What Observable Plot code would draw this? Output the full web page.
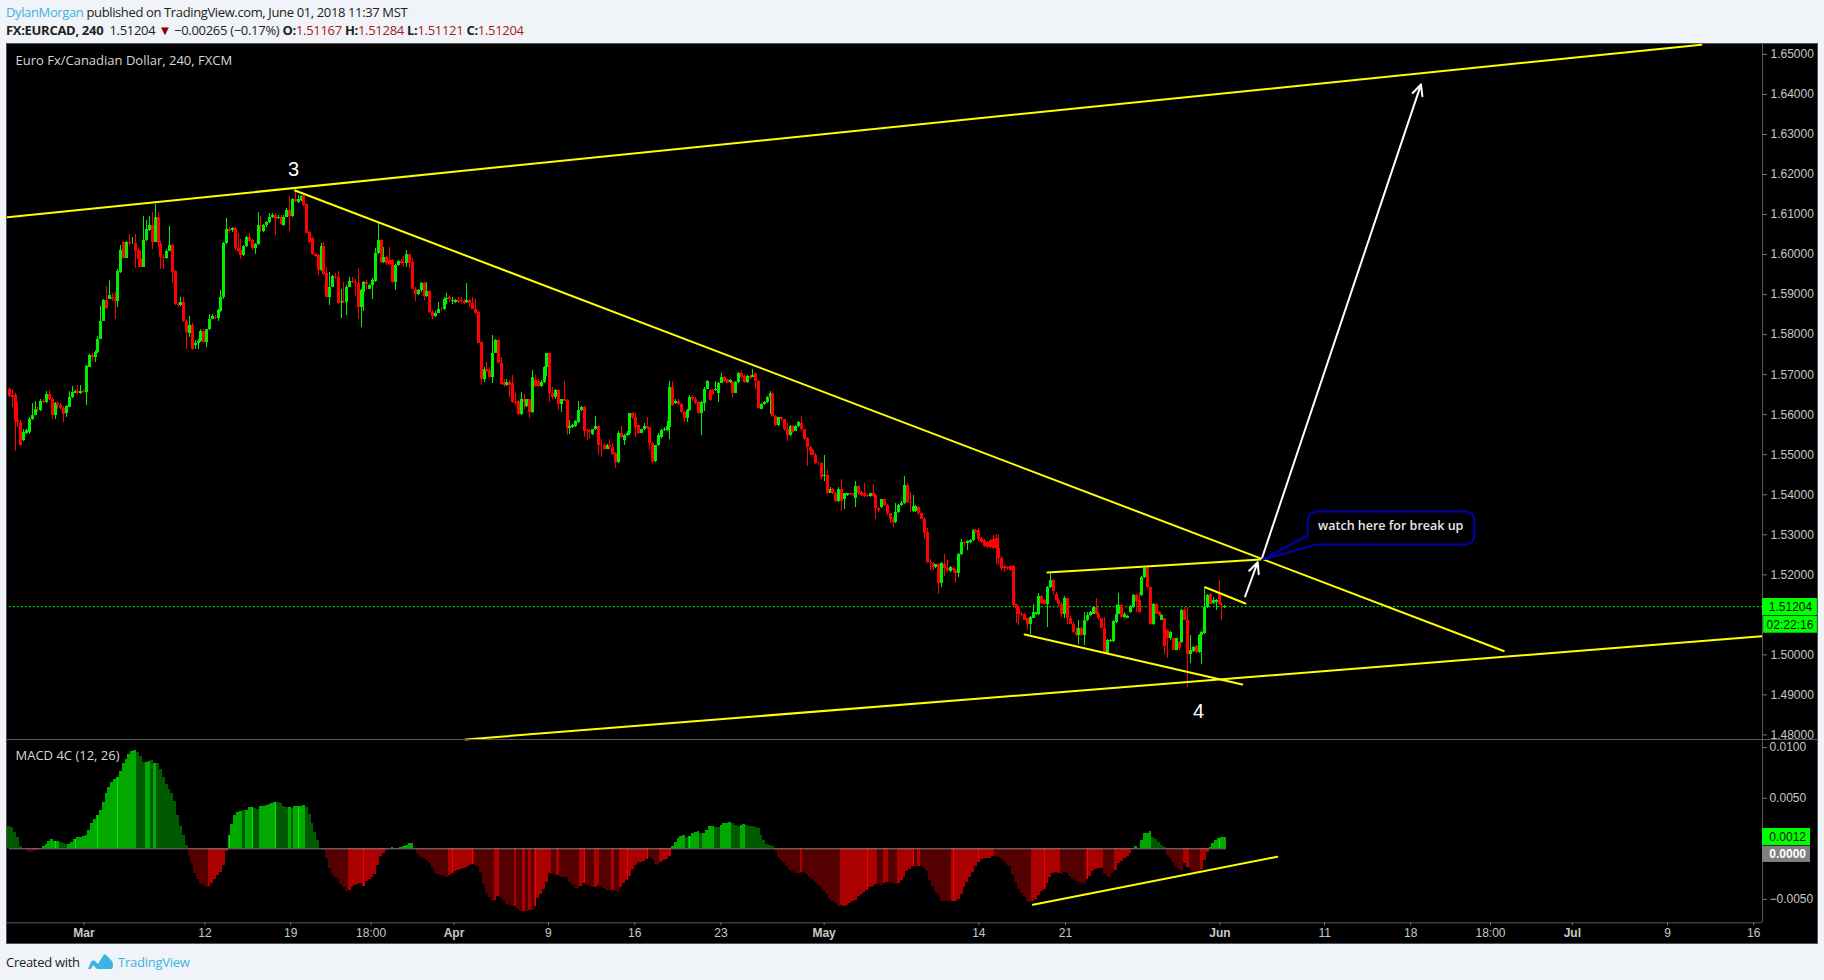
<!DOCTYPE html>
<html><head><meta charset="utf-8">
<script src="https://cdn.jsdelivr.net/npm/d3@7"></script>
<script src="https://cdn.jsdelivr.net/npm/@observablehq/plot@0.6"></script>
<style>
html,body{margin:0;padding:0;background:#f0f3f7;width:1824px;height:980px;overflow:hidden}
#h1,#h2,#foot{position:absolute;font-family:"Open Sans",sans-serif;font-size:13px;white-space:nowrap;color:#222;letter-spacing:-.3px}
#h1{left:6px;top:3px;letter-spacing:-.37px}
#h2{left:6px;top:21px}
#h2 b{font-weight:700}
.hot{color:#a61c1c}
.blue{color:#3bb3e4}
#panel{position:absolute;left:6px;top:43px;width:1812px;height:901px;box-sizing:border-box;border:1px solid #50535a;background:#000}
#panel svg{position:absolute;left:0;overflow:visible;background:transparent}
#foot{left:6px;top:953px}
#logo{position:absolute;left:88px;top:954px}
#tv{position:absolute;left:118px;top:953px;font-family:"Open Sans",sans-serif;font-size:13px;letter-spacing:-.25px;color:#3bb3e4}
</style></head><body>
<div id="h1"><span class="blue">DylanMorgan</span> published on TradingView.com, June 01, 2018 11:37 MST</div>
<div id="h2"><b>FX:EURCAD, 240</b>&nbsp; 1.51204 <span style="color:#8b0000">▼</span> −0.00265 (−0.17%) <b>O:</b><span class="hot">1.51167</span> <b>H:</b><span class="hot">1.51284</span> <b>L:</b><span class="hot">1.51121</span> <b>C:</b><span class="hot">1.51204</span></div>
<div id="panel"></div>
<div id="foot">Created with</div>
<svg id="logo" width="26" height="16" viewBox="0 0 26 16"><path d="M0 15 L3 8 C4 6 7 6 8 8 L10 10 L15 2 C16 0 18 0 19 2 L23 6 C25 8 26 12 24 15 Z M5 11 L3 15 L9 15 Z" fill="#3bb3e4" fill-rule="evenodd"/></svg>
<div id="tv">TradingView</div>
<script>
// prices in units of 0.0001
const opens=[15664,15648,15648,15585,15581,15535,15554,15556,15589,15599,15614,15610,15632,15631,15650,15639,15597,15627,15622,15616,15602,15618,15642,15653,15657,15653,15658,15656,15718,15747,15743,15755,15788,15833,15885,15889,15892,15888,15883,15956,16031,15991,16030,16027,16028,16010,15987,15968,16035,16060,16072,16031,16093,16025,15992,15990,16008,16022,15958,15875,15872,15881,15833,15803,15822,15772,15777,15783,15808,15781,15812,15839,15843,15841,15858,15892,16027,16062,16060,16064,16014,16010,15997,16020,16043,16035,16014,16025,16072,16058,16072,16081,16093,16097,16089,16093,16072,16093,16110,16095,16137,16131,16135,16145,16125,16055,16039,16000,15997,15960,16021,15952,15893,15918,15946,15943,15881,15881,15881,15918,15932,15929,15927,15868,15906,15929,15914,15922,15932,16002,16035,15981,15992,15985,15985,15931,15972,15982,15981,15978,16000,15981,15914,15900,15910,15928,15895,15907,15856,15845,15854,15864,15862,15887,15892,15883,15881,15885,15885,15883,15881,15885,15878,15864,15855,15780,15689,15712,15710,15693,15754,15785,
15729,15680,15672,15681,15677,15631,15632,15600,15637,15621,15637,15606,15685,15683,15670,15681,15717,15752,15652,15642,15660,15625,15637,15635,15566,15568,15570,15581,15610,15618,15560,15558,15550,15562,15570,15523,15524,15514,15522,15517,15503,15480,15554,15535,15547,15552,15603,15592,15572,15553,15562,15570,15567,15528,15483,15522,15543,15560,15560,15568,15668,15627,15633,15625,15606,15591,15610,15643,15639,15631,15603,15628,15664,15660,15660,15660,15652,15678,15692,15687,15681,15681,15653,15681,15702,15695,15681,15695,15693,15702,15682,15614,15625,15631,15642,15652,15595,15572,15592,15587,15562,15547,15570,15558,15570,15579,15562,15541,15518,15510,15499,15478,15478,15445,15447,15403,15412,15403,15382,15414,15389,15397,15402,15402,15391,15420,15406,15402,15397,15396,15402,15397,15366,15368,15387,15372,15352,15339,15331,15356,15372,15377,15422,15381,15358,15358,15368,15352,15339,15305,15231,15229,15218,15227,15178,15227,15217,15208,15217,15212,15203,15252,15281,15277,15281,15285,15310,
15310,15290,15285,15281,15285,15288,15290,15265,15242,15220,15219,15220,15220,15125,15119,15102,15101,15090,15077,15092,15101,15101,15145,15135,15125,15169,15185,15152,15137,15125,15101,15140,15092,15077,15056,15048,15067,15048,15086,15098,15102,15119,15102,15090,15067,15004,15033,15033,15081,15102,15123,15094,15092,15106,15119,15148,15135,15148,15194,15215,15169,15076,15126,15106,15087,15090,15060,15040,15040,15012,15031,15031,15110,15087,15002,15009,15020,15006,15048,15054,15119,15150,15129,15131,15152,15127,15119];
const closes=[15646,15644,15583,15581,15522,15556,15560,15587,15599,15614,15612,15632,15631,15650,15639,15597,15627,15622,15616,15600,15620,15642,15655,15657,15653,15658,15656,15720,15747,15743,15755,15789,15833,15885,15865,15897,15887,15883,15958,16010,15991,16030,16027,16028,16008,15987,15968,16035,16062,16072,16031,16093,16027,15992,15990,16008,16022,15956,15875,15872,15881,15833,15806,15822,15762,15777,15783,15808,15781,15812,15839,15845,15841,15860,15892,16027,16062,16058,16064,16014,16008,15997,16020,16042,16033,16014,16025,16072,16070,16072,16081,16092,16097,16087,16093,16075,16093,16110,16095,16137,16133,16137,16145,16122,16053,16030,16000,15995,15960,16021,15950,15893,15918,15946,15942,15877,15882,15879,15918,15932,15929,15927,15868,15910,15929,15925,15922,15935,16002,16035,15981,15992,15977,15975,15931,15972,15982,15978,15977,16000,15978,15914,15900,15910,15928,15895,15908,15856,15845,15854,15864,15862,15887,15891,15887,15885,15885,15881,15883,15878,15885,15878,15864,15853,15778,15689,15712,15708,15693,15754,15785,15728,
15675,15672,15681,15672,15631,15627,15600,15637,15631,15637,15606,15693,15670,15670,15681,15717,15752,15652,15642,15660,15625,15637,15634,15566,15570,15572,15582,15610,15617,15558,15558,15556,15562,15570,15522,15522,15512,15522,15517,15500,15480,15554,15543,15547,15554,15602,15592,15568,15553,15562,15570,15566,15528,15483,15522,15547,15560,15563,15570,15668,15622,15633,15625,15606,15591,15610,15643,15637,15627,15603,15631,15664,15682,15635,15650,15664,15678,15692,15682,15679,15685,15653,15681,15703,15692,15681,15695,15691,15699,15682,15616,15625,15631,15643,15653,15595,15572,15592,15587,15562,15547,15570,15556,15570,15581,15562,15537,15518,15508,15499,15478,15477,15442,15447,15403,15414,15403,15382,15414,15382,15402,15402,15400,15397,15420,15402,15397,15396,15395,15402,15396,15366,15360,15387,15372,15352,15339,15331,15356,15372,15379,15422,15381,15379,15370,15370,15352,15339,15303,15231,15228,15218,15225,15178,15228,15217,15210,15218,15210,15203,15252,15280,15277,15282,15285,15310,15306,
15287,15281,15270,15267,15269,15265,15265,15240,15215,15217,15215,15210,15123,15117,15101,15098,15087,15077,15094,15105,15105,15145,15129,15125,15169,15185,15159,15137,15125,15101,15142,15092,15077,15056,15048,15067,15048,15086,15098,15106,15119,15101,15090,15067,15006,15035,15035,15083,15102,15123,15094,15102,15095,15120,15148,15134,15106,15194,15215,15169,15076,15126,15102,15098,15098,15020,15040,15056,15012,15040,15015,15110,15087,15002,15010,15019,15006,15048,15056,15119,15148,15127,15135,15135,15127,15123,15120];
const highs=[15667,15664,15652,15631,15585,15564,15562,15592,15627,15632,15618,15637,15637,15657,15660,15643,15631,15632,15628,15620,15622,15658,15670,15660,15672,15673,15662,15722,15750,15752,15760,15795,15870,15889,15920,15935,15902,15906,15962,16022,16033,16032,16050,16043,16050,16014,16010,16095,16085,16095,16105,16125,16105,16033,16000,16012,16070,16025,15960,15881,15893,15892,15837,15845,15827,15785,15787,15814,15812,15814,15850,15850,15848,15862,15910,16031,16090,16068,16067,16067,16052,16037,16022,16045,16053,16037,16028,16104,16095,16075,16083,16102,16102,16102,16097,16097,16097,16114,16145,16139,16158,16147,16148,16147,16128,16058,16042,16003,16000,16027,16030,15967,15956,15948,15952,15957,15912,15929,15922,15943,15943,15937,15964,15912,15932,15935,15925,15939,16014,16077,16037,16017,15995,16017,15987,15975,15985,15987,15995,16010,16000,15989,15917,15912,15931,15931,15931,15910,15860,15858,15881,15868,15892,15902,15897,15893,15889,15892,15893,15887,15927,15889,15892,15889,15858,15782,15718,15731,15718,15798,15787,15787,
15742,15687,15689,15685,15697,15652,15635,15656,15650,15639,15639,15710,15699,15687,15685,15720,15753,15753,15668,15662,15662,15639,15682,15637,15585,15575,15585,15632,15620,15620,15564,15562,15564,15595,15572,15539,15527,15525,15537,15527,15506,15557,15570,15550,15558,15603,15606,15602,15574,15564,15577,15592,15568,15531,15524,15552,15562,15567,15582,15682,15682,15637,15637,15628,15608,15612,15649,15647,15642,15633,15633,15667,15685,15662,15662,15683,15681,15704,15696,15689,15687,15683,15683,15706,15710,15697,15697,15697,15714,15704,15685,15628,15633,15646,15657,15654,15597,15594,15594,15589,15578,15572,15572,15572,15583,15595,15564,15543,15521,15512,15502,15481,15481,15497,15460,15417,15415,15406,15417,15437,15404,15404,15404,15404,15432,15422,15408,15427,15400,15404,15425,15400,15368,15389,15389,15375,15354,15342,15379,15375,15382,15445,15427,15406,15397,15372,15371,15354,15342,15316,15239,15232,15227,15229,15231,15252,15237,15221,15219,15214,15254,15287,15283,15285,15287,15314,15314,
15315,15292,15288,15284,15288,15298,15300,15298,15245,15223,15221,15223,15223,15127,15121,15105,15103,15092,15096,15125,15107,15154,15148,15138,15171,15204,15188,15155,15140,15131,15145,15142,15095,15080,15069,15086,15070,15106,15106,15109,15121,15140,15105,15092,15094,15038,15038,15086,15127,15154,15125,15105,15098,15123,15150,15150,15156,15196,15219,15223,15171,15128,15128,15109,15100,15092,15063,15059,15042,15042,15034,15113,15119,15119,15048,15021,15023,15050,15059,15169,15150,15153,15144,15138,15185,15130,15124];
const lows=[15643,15618,15508,15568,15521,15533,15550,15550,15585,15597,15606,15608,15627,15628,15635,15589,15589,15614,15612,15581,15592,15617,15640,15652,15650,15650,15652,15622,15717,15733,15731,15752,15787,15832,15863,15887,15883,15838,15867,15953,15988,15989,16022,16025,15966,15967,15967,15967,16033,16058,16012,16029,16018,15962,15962,15988,16007,15928,15872,15868,15870,15831,15762,15792,15760,15764,15764,15781,15778,15768,15810,15837,15837,15833,15856,15889,16025,16052,16056,16010,16006,15987,15995,16018,16031,16010,16000,16022,16056,16056,16068,16078,16089,16048,16087,16072,16070,16092,16058,16093,16131,16128,16133,16120,16052,16027,15997,15992,15948,15958,15948,15892,15872,15917,15938,15875,15841,15877,15847,15917,15927,15896,15837,15818,15858,15910,15912,15889,15931,16000,15978,15978,15972,15972,15928,15910,15970,15975,15967,15967,15964,15912,15883,15897,15906,15885,15893,15853,15839,15843,15852,15858,15860,15875,15881,15875,15877,15877,15875,15875,15877,15867,15862,15850,15777,15672,15681,15706,15692,15678,15752,15727,
15672,15668,15670,15643,15628,15622,15598,15598,15614,15618,15591,15603,15667,15667,15668,15678,15695,15631,15639,15639,15610,15606,15632,15547,15550,15566,15567,15578,15607,15542,15535,15537,15547,15560,15500,15493,15510,15512,15513,15497,15466,15478,15541,15522,15545,15549,15587,15543,15550,15552,15560,15563,15510,15478,15481,15520,15541,15557,15558,15539,15620,15625,15622,15603,15581,15581,15607,15633,15625,15601,15547,15608,15662,15632,15647,15658,15631,15677,15680,15677,15678,15642,15652,15678,15689,15678,15679,15688,15692,15662,15613,15612,15622,15629,15600,15592,15570,15571,15584,15559,15532,15546,15553,15557,15568,15559,15535,15470,15497,15497,15476,15474,15439,15433,15401,15402,15401,15380,15380,15358,15362,15395,15397,15395,15368,15399,15395,15393,15392,15393,15393,15339,15356,15366,15370,15349,15328,15318,15328,15353,15370,15375,15378,15356,15356,15356,15349,15337,15287,15228,15210,15210,15216,15150,15168,15195,15207,15206,15207,15178,15193,15249,15267,15260,15278,15282,15303,
15284,15279,15267,15265,15266,15262,15227,15223,15212,15206,15210,15208,15120,15079,15073,15095,15085,15060,15052,15090,15098,15098,15126,15123,15069,15166,15148,15135,15119,15094,15090,15077,15075,15054,15045,15027,15045,15023,15083,15095,15100,15098,15087,15065,15004,15002,15030,15030,15079,15100,15091,15091,15090,15104,15116,15106,15104,15145,15191,15166,15073,15073,15100,15095,15085,15002,14990,15037,15010,15010,15012,15029,15085,14919,14979,15006,15004,15004,14975,15051,15116,15125,15126,15110,15125,15085,15116];
// MACD histogram in units of 0.00001
const macd=[220,211,161,112,23,7,-7,-39,-39,-20,-7,3,23,43,76,92,72,72,66,49,39,43,63,95,109,115,125,132,181,247,290,329,378,461,546,605,655,688,704,763,839,882,931,961,971,951,911,852,852,865,872,839,842,783,704,635,582,549,467,332,220,128,30,-72,-148,-247,-306,-352,-365,-378,-368,-345,-306,-266,-230,-168,-26,132,240,332,362,368,375,382,408,405,395,392,418,421,428,441,447,457,457,444,421,411,405,401,418,418,421,428,408,339,247,161,82,-7,-16,-99,-197,-257,-286,-296,-352,-385,-418,-411,-382,-365,-352,-342,-368,-326,-306,-280,-250,-164,-79,-49,-16,-3,13,-7,-3,10,20,33,49,53,-3,-56,-82,-99,-115,-141,-197,-247,-257,-266,-273,-280,-260,-240,-227,-214,-204,-197,-181,-164,-155,-164,-174,-230,-352,-438,-484,-523,-510,-470,-477,-510,-546,-556,-566,-569,-595,-622,
-615,-615,-609,-609,-569,-490,-451,-401,-332,-247,-250,-263,-266,-283,-283,-286,-336,-365,-388,-388,-372,-345,-365,-372,-382,-382,-365,-375,-395,-411,-411,-411,-421,-431,-382,-342,-313,-273,-204,-164,-135,-135,-125,-105,-89,-105,-151,-161,-138,-118,-102,-72,23,63,102,122,132,112,122,151,161,171,151,151,181,220,220,214,211,234,250,253,260,250,230,224,230,240,234,220,220,214,201,132,82,43,33,23,
-26,-92,-115,-135,-174,-211,-224,-243,-243,-234,-234,-253,-283,-303,-332,-362,-382,-421,-451,-500,-520,-540,-566,-559,-566,-559,-540,-520,-510,-470,-451,-431,-411,-385,-372,-352,-352,-362,-342,-332,-332,-342,-352,-345,-313,-283,-224,-204,-174,-174,-174,-174,-194,-224,-313,-372,-431,-464,-520,-520,-520,-520,-520,-520,-500,-451,-382,-332,-283,-234,-174,-135,-105,-95,-95,-92,-76,-76,-86,-105,-135,-164,-174,-263,-332,-401,-441,-480,-520,
-526,-520,-503,-464,-424,-401,-342,-286,-243,-234,-243,-253,-234,-243,-273,-303,-322,-332,-342,-352,-303,-273,-224,-204,-194,-194,-253,-273,-283,-243,-214,-145,-125,-95,-76,-46,-10,23,3,82,151,151,171,112,89,66,33,16,-66,-99,-135,-184,-204,-214,-145,-184,-204,-224,-234,-234,-204,-115,-36,10,53,82,102,112,112];
// tone of each histogram bar, as runs: G rising above zero, D falling above zero, R rising below zero, M falling below zero
const macdToneNames=["D","M","R","G","D","G","D","G","D","G","D","M","R","G","D","G","D","G","D","G","D","G","D","M","R","M","G","M","G","M","R","M","R","M","R","M","R","M","R","M","R","M","R","M","R","M","R","M","R","M","R","M","R","G","D","G","D","G","D","G","D","G","D","M","R","M","R","M","R","M","R","M","R","M","R","M","R","M","R","M","R","G","D","M","R","M","R","G"];
const macdToneRuns=[6,3,2,7,3,24,3,2,1,1,11,7,7,5,1,3,2,6,4,1,1,4,5,10,13,2,1,2,5,12,9,7,2,5,1,2,1,1,1,1,6,2,1,7,2,3,2,4,1,2,10,4,4,5,1,4,1,4,2,4,3,2,10,9,1,13,13,2,2,3,6,1,1,11,15,13,10,9,6,4,7,6,5,6,2,4,3,6];
const macdSparks=[16,23,31,38,77,85,93,101,124,155,162,184,201,216,223,231,238,300,316,330,339,362,377,423];
const toneColors={G:"#00a800",D:"#005a00",R:"#aa0000",M:"#550000"};
// time axis
const minorTickAt=[68.4,98.4,126.5,188.5,218.7,248.8,339,369.3,459.9,490,517.9,579.8,609.9];
const minorTickText=["12","19","18:00","9","16","23","14","21","11","18","18:00","9","16"];
const monthTickAt=[26.1,155.5,284.9,423.3,546.5];
const monthTickText=["Mar","Apr","May","Jun","Jul"];
const priceTicks=[1.48,1.49,1.5,1.52,1.53,1.54,1.55,1.56,1.57,1.58,1.59,1.6,1.61,1.62,1.63,1.64,1.65];
const macdTicks=[0.01,0.005,-0.005];
// drawn annotations: [bar position, price]
const channelTop=[[-0.6,1.60933],[591.6,1.65243]];
const channelBottom=[[159.5,1.47886],[612.7,1.50466]];
const downTrend=[[99.9,1.6160],[522.5,1.50096]];
const wedgeTop=[[363,1.52057],[437.5,1.52382]];
const wedgeBottom=[[355,1.50509],[431.1,1.4926]];
const flagTop=[[418.1,1.5169],[432.2,1.51283]];
const arrows=[{x1:432.1,y1:1.51458,x2:436.5,y2:1.52315},{x1:438.1,y1:1.5244,x2:493.6,y2:1.64253}];
const macdTrend=[[357.9,-0.00553],[443.3,-0.00079]];
const callout=[[454,1.52982],[454,1.5338],[454.8,1.5352],[456.8,1.53581],[509.5,1.53581],[511.5,1.5352],[512.3,1.5338],[512.3,1.5296],[511.5,1.5282],[509.5,1.52757],[457.1,1.52757],[438.1,1.52382]];

const UP="#00f000",DOWN="#ff0000",YEL="#ffff00",AXIS="#55585e",LBL="#c8c8c8";
const tones=macdToneRuns.flatMap((n,k)=>d3.range(n).map(()=>macdToneNames[k]));
const candles=opens.map((o,i)=>({i,o:o/1e4,c:closes[i]/1e4,h:highs[i]/1e4,l:lows[i]/1e4}));
const bars=macd.map((v,i)=>({i,v:v/1e5,tone:tones[i]||"G"}));
const xDomain=[0,613],W=1810,ML=1.8,MR=55;
const yel=(data)=>Plot.line(data,{x:"0",y:"1",stroke:YEL,strokeWidth:2});
const base={fontFamily:"'Liberation Sans',Arial,sans-serif",fontSize:"12px",background:"transparent"};

const main=Plot.plot({width:W,height:695,marginLeft:ML,marginRight:MR,marginTop:0,marginBottom:0,style:base,
 x:{domain:xDomain,axis:null},y:{domain:[1.47886,1.65248]},color:{type:"identity"},
 marks:[
  Plot.ruleY([1.51204],{x1:0,x2:613,stroke:"#00ff00",strokeWidth:1,strokeDasharray:"2,2"}),
  Plot.ruleX(candles,{x:"i",y1:"l",y2:"h",stroke:d=>d.c>=d.o?UP:DOWN,strokeWidth:1,shapeRendering:"crispEdges"}),
  Plot.ruleX(candles,{x:"i",y1:"o",y2:"c",stroke:d=>d.c>=d.o?UP:DOWN,strokeWidth:3,shapeRendering:"crispEdges"}),
  yel(channelTop),yel(channelBottom),yel(downTrend),yel(wedgeTop),yel(wedgeBottom),yel(flagTop),
  Plot.line(callout,{x:"0",y:"1",curve:"linear-closed",stroke:"#0000b0",strokeWidth:2,fill:"#000"}),
  Plot.text(["watch here for break up"],{x:483,y:1.5322,fill:"#e8e8e8",fontFamily:"'Open Sans',sans-serif",fontWeight:600,fontSize:12.5}),
  Plot.arrow(arrows,{x1:"x1",y1:"y1",x2:"x2",y2:"y2",bend:0,stroke:"#fff",strokeWidth:2,headLength:9,headAngle:50}),
  Plot.text(["3"],{x:99.4,y:1.62125,fill:"#fff",fontSize:20}),
  Plot.text(["4"],{x:415.8,y:1.48585,fill:"#fff",fontSize:20}),
  Plot.text(["Euro Fx/Canadian Dollar, 240, FXCM"],{frameAnchor:"top-left",dx:6.2,dy:11,textAnchor:"start",fill:"#d8d8d8",fontFamily:"'Open Sans',sans-serif",fontSize:13}),
  Plot.ruleX([613],{stroke:AXIS}),
  Plot.axisY({anchor:"right",ticks:priceTicks,tickFormat:d3.format(".5f"),tickSize:4,tickPadding:4,label:null,stroke:"#777",fill:LBL}),
  Plot.rect([0],{x1:613,x2:632.2,y1:1.51408,y2:1.50976,fill:"#00ff00"}),
  Plot.rect([0],{x1:613.4,x2:632.2,y1:1.50958,y2:1.50541,fill:"#00ff00"}),
  Plot.text(["1.51204"],{x:622.8,y:1.51204,fill:"#111"}),
  Plot.text(["02:22:16"],{x:622.6,y:1.50741,fill:"#111"})
 ]});
main.style.top="0px";
document.getElementById("panel").append(main);

const lower=Plot.plot({width:W,height:204,marginLeft:ML,marginRight:MR,marginTop:0,marginBottom:20.7,style:base,
 x:{domain:xDomain},y:{domain:[-0.00731,0.0108]},color:{type:"identity"},
 marks:[
  Plot.rect(bars,{x1:d=>d.i-0.5,x2:d=>d.i+0.5,y1:0,y2:"v",fill:d=>toneColors[d.tone],shapeRendering:"crispEdges"}),
  Plot.ruleX(bars.filter(d=>macdSparks.includes(d.i)),{x:"i",y1:0,y2:"v",stroke:d=>d.v>0?"#00e800":"#f00000",strokeWidth:1,shapeRendering:"crispEdges"}),
  Plot.ruleY([0],{x1:0,x2:425.6,stroke:"#808080",strokeWidth:1}),
  yel(macdTrend),
  Plot.text(["MACD 4C (12, 26)"],{frameAnchor:"top-left",dx:6.2,dy:11,textAnchor:"start",fill:"#d8d8d8",fontFamily:"'Open Sans',sans-serif",fontSize:13}),
  Plot.ruleX([613],{stroke:AXIS}),
  Plot.ruleY([-0.00731],{x1:-0.7,x2:613,stroke:AXIS}),
  Plot.axisY({anchor:"right",ticks:macdTicks,tickFormat:d3.format(".4f"),tickSize:4,tickPadding:3,label:null,stroke:"#777",fill:LBL}),
  Plot.axisX({anchor:"bottom",ticks:minorTickAt,tickFormat:d=>minorTickText[minorTickAt.indexOf(d)],tickSize:3,tickPadding:3,label:null,stroke:"#777",fill:LBL}),
  Plot.axisX({anchor:"bottom",ticks:monthTickAt,tickFormat:d=>monthTickText[monthTickAt.indexOf(d)],tickSize:3,tickPadding:3,label:null,stroke:"#777",fill:LBL,fontWeight:"bold"}),
  Plot.rect([0],{x1:613,x2:629.8,y1:0.00201,y2:0.00033,fill:"#00ff00"}),
  Plot.rect([0],{x1:613,x2:629.8,y1:0.00026,y2:-0.00135,fill:"#808080"}),
  Plot.text(["0.0012"],{x:621.8,y:0.00119,fill:"#111"}),
  Plot.text(["0.0000"],{x:621.8,y:-0.00053,fill:"#fff",fontWeight:"bold"})
 ]});
lower.style.top="695px";
document.getElementById("panel").append(lower);
const sep=document.createElement("div");
sep.style.cssText="position:absolute;left:0;top:695px;width:100%;height:1px;background:#55585e";
document.getElementById("panel").append(sep);
</script>
</body></html>
